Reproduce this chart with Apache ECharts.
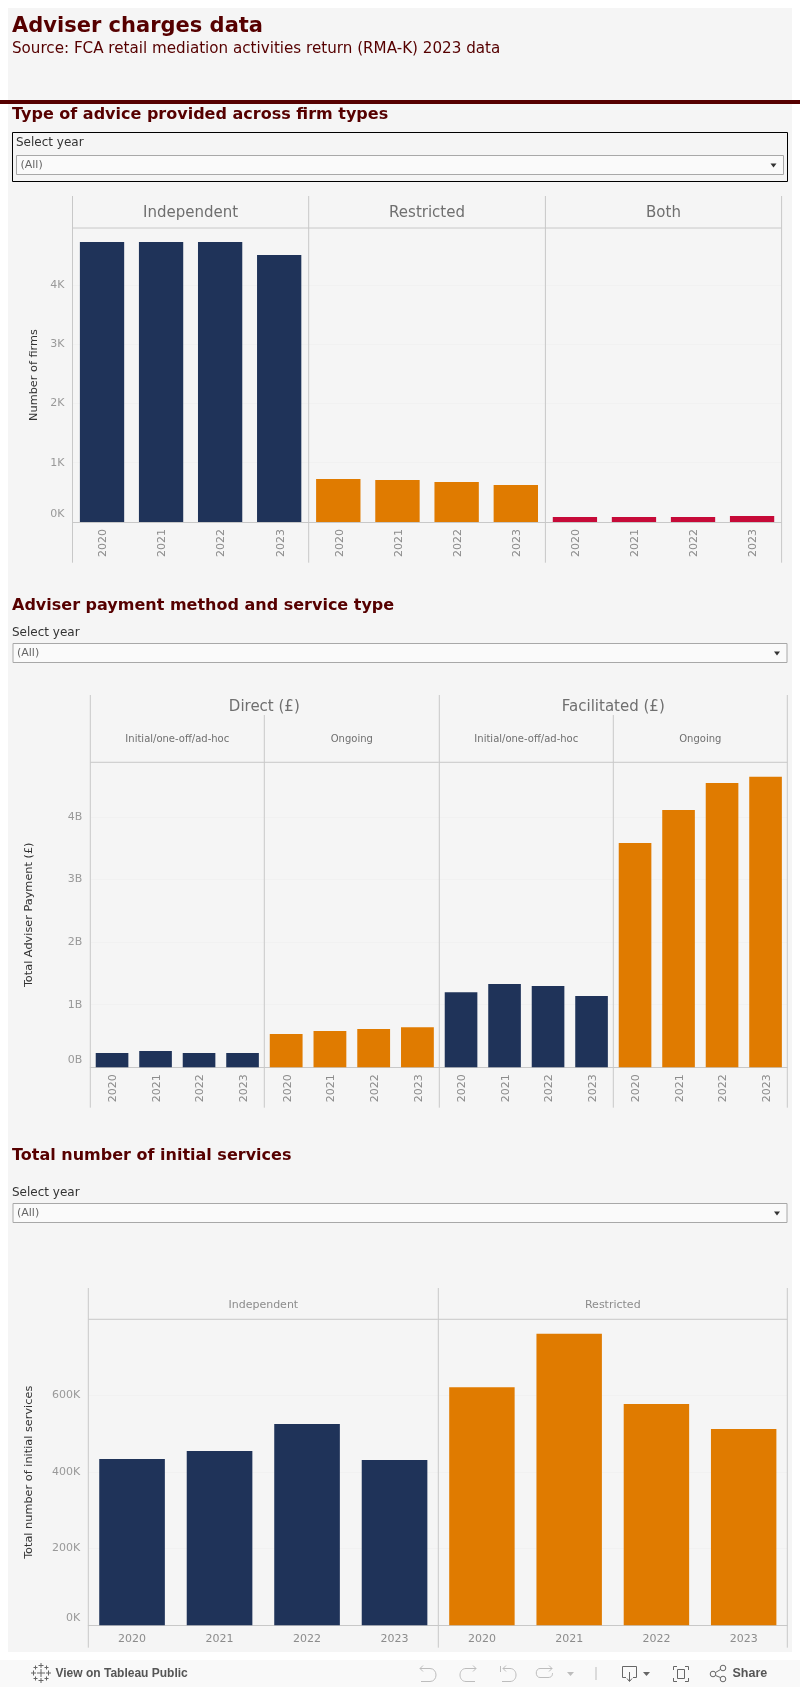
<!DOCTYPE html>
<html><head><meta charset="utf-8">
<style>html,body{margin:0;padding:0;background:#fff}#c{width:800px;height:1687px}</style>
<script src="https://cdn.jsdelivr.net/npm/echarts@6/dist/echarts.min.js"></script>
</head><body><div id="c"></div>
<script>
const years = ['2020','2021','2022','2023'];
const firmsIndependent = [4726,4726,4726,4506];
const firmsRestricted = [726,709,675,625];
const firmsBoth = [84,84,84,101];
const directInitial = [0.228,0.26,0.228,0.228];
const directOngoing = [0.532,0.58,0.61,0.64];
const facilitatedInitial = [1.2,1.33,1.3,1.14];
const facilitatedOngoing = [3.58,4.11,4.54,4.64];
const servicesIndependent = [433.6,454.5,525,431];
const servicesRestricted = [621,760,577,512];

const NAVY='#1f3359', ORANGE='#e07b00', RED='#c60a38', LINE='#c8c8c8', MAROON='#560000', BG='#f5f5f5';
const FONT='"DejaVu Sans"', UI='"Liberation Sans"';

const sections = [
 {xs:[72.5,308.7,545.4,781.6], top:228, bottom:522, frameTop:196, frameBottom:562.7, max:4962, interval:1000, unit:'K', div:1000,
  name:'Number of firms', nameGap:32.5, rot:90, panels:[[firmsIndependent,NAVY],[firmsRestricted,ORANGE],[firmsBoth,RED]]},
 {xs:[90.3,264.3,439.3,613.3,787.3], top:762.3, bottom:1067.3, frameTop:695, frameBottom:1107.7, max:4.87, interval:1, unit:'B', div:1,
  name:'Total Adviser Payment (\u00a3)', nameGap:55.5, rot:90, panels:[[directInitial,NAVY],[directOngoing,ORANGE],[facilitatedInitial,NAVY],[facilitatedOngoing,ORANGE]]},
 {xs:[88.3,438.3,787.3], top:1319.3, bottom:1625.3, frameTop:1288, frameBottom:1647.7, max:798, interval:200, unit:'K', div:1,
  name:'Total number of initial services', nameGap:53.5, rot:0, panels:[[servicesIndependent,NAVY],[servicesRestricted,ORANGE]]}
];

const grid=[],xAxis=[],yAxis=[],series=[],graphic=[];
let pathCount=0;
function text(t,x,y,size,color,opt={}){graphic.push({type:'text',x,y,silent:true,style:{text:t,x:0,y:0,fontFamily:opt.font||FONT,fontSize:size,fontWeight:opt.weight||'normal',fill:color,align:opt.align||'left',verticalAlign:'middle'}});}
function rect(x,y,w,h,fill,stroke,lw,z){graphic.push({type:'rect',silent:true,z:z===undefined?-1:z,shape:{x,y,width:w,height:h},style:{fill:fill||'none',stroke:stroke||'none',lineWidth:lw||1}});}
function line(x1,y1,x2,y2,color,lw){graphic.push({type:'line',silent:true,z:1,shape:{x1,y1,x2,y2},style:{stroke:color||LINE,lineWidth:lw||1}});}
function path(d,stroke){
  const name='toolbarIcon'+(pathCount++);
  echarts.graphic.registerShape(name,echarts.graphic.extendPath(d,{}));
  graphic.push({type:name,silent:true,style:{stroke:stroke,fill:'none',lineWidth:1}});
}

sections.forEach(s=>{
  s.panels.forEach((p,i)=>{
    const idx=grid.length, left=s.xs[i], right=s.xs[i+1];
    grid.push({left,width:right-left,top:s.top,height:s.bottom-s.top});
    xAxis.push({type:'category',gridIndex:idx,data:years,axisTick:{show:false},
      axisLine:{show:true,lineStyle:{color:LINE,width:1}},
      axisLabel:{rotate:s.rot,margin:s.rot?7:8,color:'#8c8c8c',fontFamily:FONT,fontSize:11,interval:0,
        formatter:s.rot?(v=>'{y|'+v+'}'):(v=>v),
        rich:{y:{padding:[3,0,0,0],color:'#8c8c8c',fontFamily:FONT,fontSize:11}}}});
    yAxis.push({type:'value',gridIndex:idx,min:0,max:s.max,interval:s.interval,
      name:i===0?s.name:'',nameLocation:'middle',nameGap:s.nameGap,nameRotate:90,
      nameTextStyle:{color:'#333',fontFamily:FONT,fontSize:11.3},
      axisLine:{show:false},axisTick:{show:false},
      splitLine:{show:true,showMaxLine:false,showMinLine:false,lineStyle:{color:'#f1f1f1',width:1}},
      axisLabel:{show:i===0,margin:8,color:'#999',fontFamily:FONT,fontSize:11,verticalAlignMinLabel:'bottom',
        showMaxLabel:false,formatter:v=>v===0?'{z|0'+s.unit+'}':(v/s.div)+s.unit,
        rich:{z:{padding:[0,0,2,0],color:'#999',fontFamily:FONT,fontSize:11}}}});
    series.push({type:'bar',xAxisIndex:idx,yAxisIndex:idx,data:p[0],barWidth:'75%',itemStyle:{color:p[1]},silent:true});
  });
  line(s.xs[0],s.top,s.xs[s.xs.length-1],s.top);
});

// page chrome
rect(8,8,784,1644,BG,null,1,-5);
rect(0,1660,800,27,'#f9f9f9',null,1,-5);
rect(0,100,800,4,MAROON,null,1,5);
text('Adviser charges data',12,26.5,21,MAROON,{weight:'bold'});
text('Source: FCA retail mediation activities return (RMA-K) 2023 data',12,49,15.15,MAROON);
text('Type of advice provided across firm types',12,114.5,16,MAROON,{weight:'bold'});
text('Adviser payment method and service type',12,606,16,MAROON,{weight:'bold'});
text('Total number of initial services',12,1155.7,16,MAROON,{weight:'bold'});

function dropdown(x,y,w,lx,ly){
  text('Select year',lx,ly,12,'#333');
  rect(x,y,w,19,'#fafafa','#a8a8a8',1,0);
  text('(All)',x+4,y+10,11,'#666');
  graphic.push({type:'polygon',silent:true,shape:{points:[[x+w-13,y+8],[x+w-7,y+8],[x+w-10,y+12]]},style:{fill:'#333'}});
}
rect(12.5,132.5,775,49,'none','#000',1,0);
dropdown(16.5,155.5,767,16,143);
dropdown(13,643.5,774,12,633);
dropdown(13,1203.5,774,12,1192.7);

// frames and headers
sections.forEach((s,si)=>{
  s.xs.forEach((x,i)=>{
    const t=(si===1&&(i===1||i===3))?715:s.frameTop;
    line(x,t,x,s.frameBottom);
  });
});
const a=sections[0].xs;
['Independent','Restricted','Both'].forEach((t,i)=>text(t,(a[i]+a[i+1])/2,213.5,15,'#6f6f6f',{align:'center'}));
const b=sections[1].xs;
text('Direct (\u00a3)',b[1],707,15,'#6f6f6f',{align:'center'});
text('Facilitated (\u00a3)',b[3],707,15,'#6f6f6f',{align:'center'});
['Initial/one-off/ad-hoc','Ongoing','Initial/one-off/ad-hoc','Ongoing'].forEach((t,i)=>text(t,(b[i]+b[i+1])/2,739,10,'#6f6f6f',{align:'center'}));
const c=sections[2].xs;
['Independent','Restricted'].forEach((t,i)=>text(t,(c[i]+c[i+1])/2,1305,11,'#8c8c8c',{align:'center'}));

// footer toolbar
text('View on Tableau Public',55.5,1674,12,'#555',{font:UI,weight:'bold'});
text('Share',732.5,1674,12.5,'#555',{font:UI,weight:'bold'});
const lite='#bdbdbd', dark='#666';
[[41,1673,4],[41,1665.5,2.5],[41,1680.5,2.5],[33.5,1673,2.5],[48.5,1673,2.5],[35.5,1667.5,2],[46.5,1667.5,2],[35.5,1678.5,2],[46.5,1678.5,2]].forEach(([x,y,r])=>{
  line(x-r,y,x+r,y,dark); line(x,y-r,x,y+r,dark);
});
path('M423 1665.5 L420 1668.5 L423 1671.5 M420 1668.5 L430 1668.5 C438 1668.5 438 1681.5 430 1681.5 L421 1681.5',lite);
path('M473 1665.5 L476 1668.5 L473 1671.5 M476 1668.5 L466 1668.5 C458 1668.5 458 1681.5 466 1681.5 L475 1681.5',lite);
path('M500.5 1666 L500.5 1672 M506 1665.5 L503 1668.5 L506 1671.5 M503 1668.5 L510 1668.5 C518 1668.5 518 1681.5 510 1681.5 L502 1681.5',lite);
path('M549 1665.5 L552 1668.5 L549 1671.5 M552 1668.5 L540 1668.5 C535 1668.5 535 1677.5 540 1677.5 L548 1677.5 C552 1677.5 552.5 1675 552.5 1673',lite);
graphic.push({type:'polygon',silent:true,shape:{points:[[567,1672],[574,1672],[570.5,1676]]},style:{fill:lite}});
line(596,1667,596,1680,lite);
path('M626 1677.5 L622.5 1677.5 L622.5 1666.5 L636.5 1666.5 L636.5 1677.5 L633 1677.5 M629.5 1672 L629.5 1681 M627 1678.5 L629.5 1681.5 L632 1678.5',dark);
graphic.push({type:'polygon',silent:true,shape:{points:[[643,1672],[650,1672],[646.5,1676]]},style:{fill:dark}});
path('M673.5 1670 L673.5 1666.5 L677 1666.5 M685 1666.5 L688.5 1666.5 L688.5 1670 M688.5 1678 L688.5 1681.5 L685 1681.5 M677 1681.5 L673.5 1681.5 L673.5 1678 M677.5 1669.5 L684.5 1669.5 L684.5 1678.5 L677.5 1678.5 Z',dark);
[[713,1674],[723,1668],[723,1679]].forEach(([cx,cy])=>graphic.push({type:'circle',silent:true,shape:{cx,cy,r:2.8},style:{fill:'none',stroke:dark,lineWidth:1}}));
path('M715.5 1672.5 L720.5 1669.5 M715.5 1675.5 L720.5 1677.5',dark);

const chart=echarts.init(document.getElementById('c'),null,{renderer:'canvas'});
chart.setOption({animation:false,backgroundColor:'#fff',grid,xAxis,yAxis,series,graphic:{elements:graphic}});
</script></body></html>
